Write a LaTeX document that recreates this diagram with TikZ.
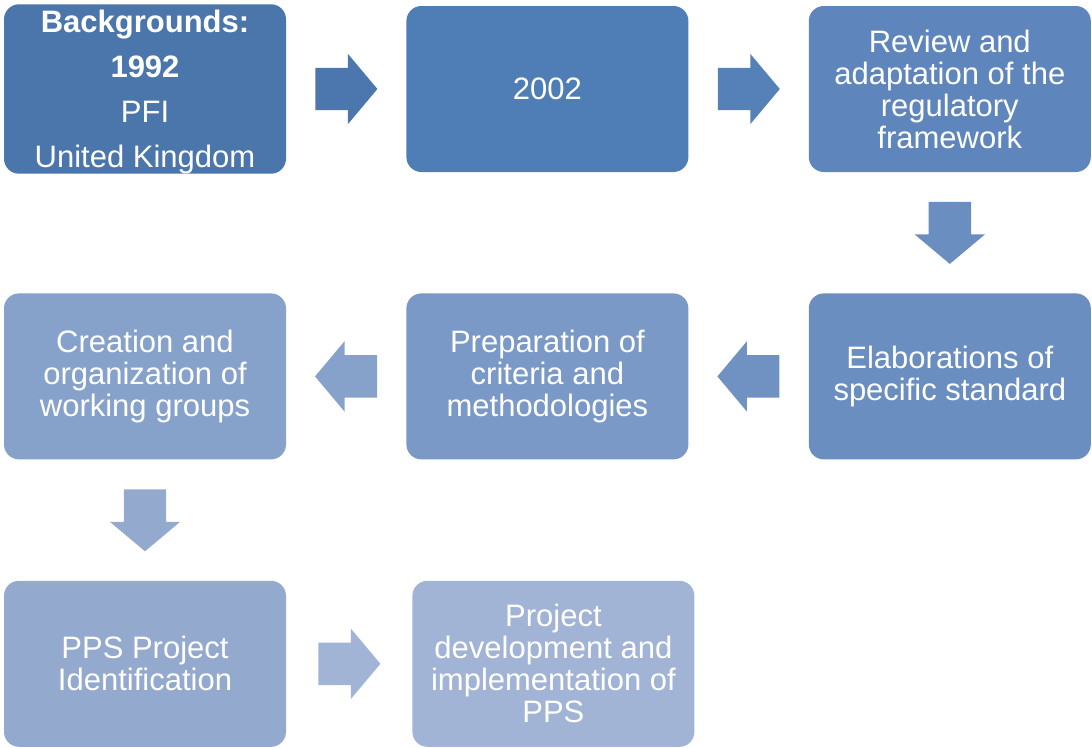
\documentclass[tikz,border=0pt]{standalone}
\usepackage{fontspec}
\setmainfont{Liberation Sans}
\usetikzlibrary{positioning, calc, shapes.arrows}
\definecolor{boxA}{HTML}{4A76AC}
\definecolor{boxB}{HTML}{4F7DB6}
\definecolor{boxC}{HTML}{5E86BC}
\definecolor{boxD}{HTML}{6A8EC0}
\definecolor{boxE}{HTML}{7A99C6}
\definecolor{boxF}{HTML}{86A2CB}
\definecolor{boxG}{HTML}{94A9CE}
\definecolor{boxH}{HTML}{A2B4D5}
\tikzset{stage/.style={rectangle, rounded corners=15pt, minimum width=282pt, minimum height=166pt, inner sep=0pt, align=center, text=white, font=\fontsize{31}{32}\selectfont}}
\tikzset{flow/.style={single arrow, single arrow head extend=14pt, single arrow tip angle=100, minimum height=62pt, anchor=tail}}
\tikzset{hflow/.style={flow, inner xsep=0pt, inner ysep=21pt}}
\tikzset{vflow/.style={flow, inner xsep=21pt, inner ysep=0pt, shape border rotate=270}}

\begin{document}
\begin{tikzpicture}[x=1pt, y=-1pt]
      \useasboundingbox (0,0) rectangle (1092,747);

      \node[stage, fill=boxA, font=\fontsize{31}{45}\selectfont] (b1) at (145,89) {\rule{0pt}{28pt}\textbf{Backgrounds:}\\\textbf{1992}\\PFI\\United Kingdom};
      \node[stage, fill=boxB, right=120pt of b1] (b2) {2002};
      \node[stage, fill=boxC, right=120pt of b2] (b3) {Review and\\adaptation of the\\regulatory\\framework};

      \node[stage, fill=boxD, below=121pt of b3] (b6) {Elaborations of\\specific standard};
      \node[stage, fill=boxE, left=120pt of b6] (b5) {Preparation of\\criteria and\\methodologies};
      \node[stage, fill=boxF, left=120pt of b5] (b4) {Creation and\\organization of\\working groups};

      \node[stage, fill=boxG, below=121pt of b4] (b7) {PPS Project\\Identification};
      \node[stage, fill=boxH, right=126pt of b7] (b8) {Project\\development and\\implementation of\\PPS};

      % block arrows between the stages
      \node[hflow, fill=boxA!80!boxB] (a12) at ($(b1.east)!.5!(b2.west)+(-31,0)$) {};
      \node[hflow, fill=boxB!60!boxC] (a23) at ($(b2.east)!.5!(b3.west)+(-31,0)$) {};
      \node[vflow, fill=boxD] (a36) at ($(b3.south)!.5!(b6.north)+(0,-31)$) {};
      \node[hflow, fill=boxD!60!boxE, shape border rotate=180] (a65) at ($(b6.west)!.5!(b5.east)+(31,0)$) {};
      \node[hflow, fill=boxF, shape border rotate=180] (a54) at ($(b5.west)!.5!(b4.east)+(31,0)$) {};
      \node[vflow, fill=boxG] (a47) at ($(b4.south)!.5!(b7.north)+(0,-31)$) {};
      \node[hflow, fill=boxH] (a78) at ($(b7.east)!.5!(b8.west)+(-31,0)$) {};
    \end{tikzpicture}
\end{document}
